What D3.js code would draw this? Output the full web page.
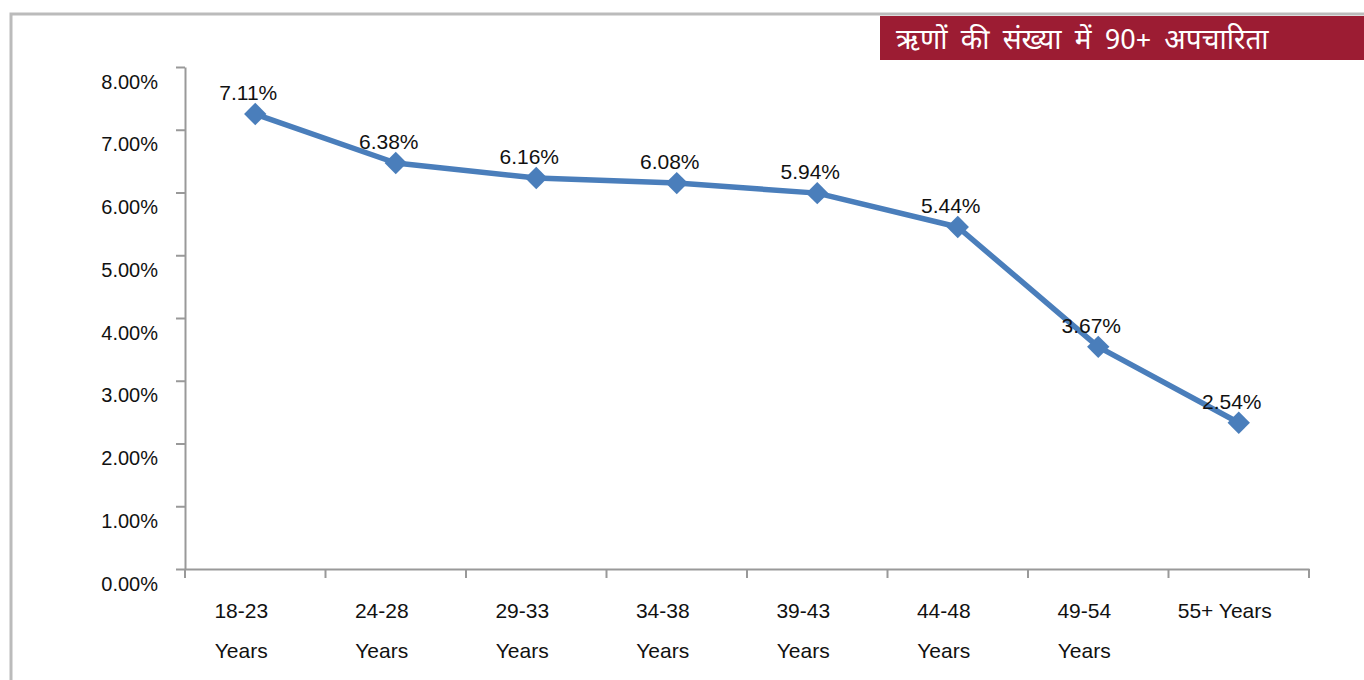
<!DOCTYPE html>
<html>
<head>
<meta charset="utf-8">
<style>
  body { margin: 0; background: #fff; }
  svg { display: block; font-family: "Liberation Sans", Arial, sans-serif; }
  .axis path, .axis line { stroke: #999; stroke-width: 2; }
  .axis text { fill: #111; font-size: 20px; }
  .lbl { fill: #111; font-size: 21px; }
  .title { fill: #fff; font-size: 28px; word-spacing: 6px; font-family: "Noto Sans Devanagari", "Lohit Devanagari", "Noto Sans", sans-serif; }
</style>
<script src="https://cdn.jsdelivr.net/npm/d3@7"></script>
</head>
<body>
<script>
  const width = 1364, height = 680;

  const categories = ["18-23 Years", "24-28 Years", "29-33 Years", "34-38 Years",
                      "39-43 Years", "44-48 Years", "49-54 Years", "55+ Years"];
  // where the markers sit in the picture (percent)
  const values = [7.25, 6.47, 6.23, 6.15, 5.99, 5.45, 3.54, 2.33];
  // the data labels as printed
  const labels = ["7.11%", "6.38%", "6.16%", "6.08%", "5.94%", "5.44%", "3.67%", "2.54%"];
  const yTicks = [0, 1, 2, 3, 4, 5, 6, 7, 8];
  const title = "ऋणों की संख्या में 90+ अपचारिता";

  const svg = d3.select("body").append("svg")
    .attr("width", width).attr("height", height);

  // outer frame
  svg.append("path")
    .attr("d", "M11,680 V14 H1364")
    .attr("fill", "none").attr("stroke", "#bbb").attr("stroke-width", 3);

  // title box
  svg.append("rect")
    .attr("x", 880).attr("y", 16).attr("width", 484).attr("height", 44)
    .attr("fill", "#9c1c33");
  svg.append("text").attr("class", "title")
    .attr("x", 896).attr("y", 49).text(title);

  const x = d3.scaleBand().domain(categories).range([185, 1309]);
  const y = d3.scaleLinear().domain([0, 8]).range([569, 67]);

  // y axis
  const yAxis = svg.append("g").attr("class", "axis")
    .attr("transform", "translate(185,0)")
    .call(d3.axisLeft(y).tickValues(yTicks).tickSize(9).tickSizeOuter(0)
      .tickFormat(d => d.toFixed(2) + "%"));
  yAxis.selectAll("text").attr("x", -27).attr("dy", 0).attr("y", 21);

  // x axis
  const xAxis = svg.append("g").attr("class", "axis")
    .attr("transform", "translate(0,569)")
    .call(d3.axisBottom(x).tickValues([]).tickSizeOuter(0));
  xAxis.selectAll(".edge")
    .data(d3.range(categories.length + 1))
    .join("line")
    .attr("x1", i => 185 + i * x.step()).attr("x2", i => 185 + i * x.step())
    .attr("y1", 0).attr("y2", 9);

  // category labels, wrapped like the original
  const catG = svg.append("g");
  categories.forEach(c => {
    const cx = x(c) + x.bandwidth() / 2 - 14;
    const lines = c.startsWith("55+") ? [c] : c.split(" ");
    const t = catG.append("text").attr("class", "lbl")
      .attr("text-anchor", "middle").attr("x", cx).attr("y", 618);
    lines.forEach((l, i) => {
      t.append("tspan").attr("x", cx).attr("dy", i === 0 ? 0 : 40).text(l);
    });
  });

  const cx = (d, i) => x(categories[i]) + x.bandwidth() / 2;

  svg.append("path")
    .datum(values)
    .attr("fill", "none").attr("stroke", "#4a7ebb").attr("stroke-width", 5.5)
    .attr("stroke-linejoin", "round")
    .attr("d", d3.line().x(cx).y(d => y(d)));

  svg.selectAll(".marker")
    .data(values)
    .join("path")
    .attr("class", "marker")
    .attr("transform", (d, i) => `translate(${cx(d, i)},${y(d)})`)
    .attr("d", d3.symbol().type(d3.symbolDiamond2).size(320))
    .attr("fill", "#4a7ebb");

  svg.selectAll(".dl")
    .data(values)
    .join("text")
    .attr("class", "lbl")
    .attr("text-anchor", "middle")
    .attr("x", (d, i) => cx(d, i) - 7)
    .attr("y", d => y(d) - 14)
    .text((d, i) => labels[i]);
</script>
</body>
</html>
